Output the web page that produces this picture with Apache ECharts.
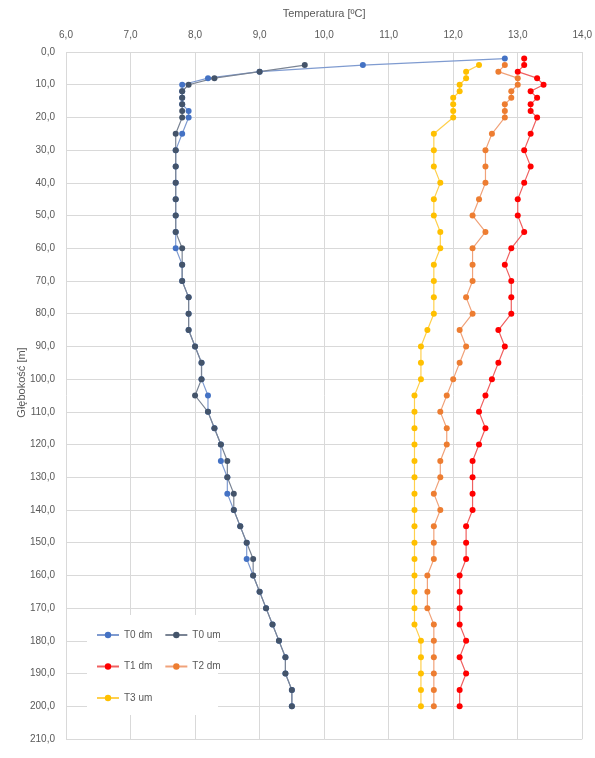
<!DOCTYPE html>
<html>
<head>
<meta charset="utf-8">
<script src="https://cdn.jsdelivr.net/npm/echarts@6/dist/echarts.min.js"></script>
<style>html,body{margin:0;padding:0;background:#fff;}#c{width:595px;height:758px;}</style>
</head>
<body>
<div id="c"></div>
<script>
// Depths [m]
const depths = [2,4,6,8,10,12,14,16,18,20,25,30,35,40,45,50,55,60,65,70,75,80,85,90,95,100,105,110,115,120,125,130,135,140,145,150,155,160,165,170,175,180,185,190,195,200];
const seriesNames = ['T0 dm','T0 um','T1 dm','T2 dm','T3 um'];
const T0dm = [12.8,10.6,9.0,8.2,7.8,7.8,7.8,7.8,7.9,7.9,7.8,7.7,7.7,7.7,7.7,7.7,7.7,7.7,7.8,7.8,7.9,7.9,7.9,8.0,8.1,8.1,8.2,8.2,8.3,8.4,8.4,8.5,8.5,8.6,8.7,8.8,8.8,8.9,9.0,9.1,9.2,9.3,9.4,9.4,9.5,9.5];
const T0um = [null,9.7,9.0,8.3,7.9,7.8,7.8,7.8,7.8,7.8,7.7,7.7,7.7,7.7,7.7,7.7,7.7,7.8,7.8,7.8,7.9,7.9,7.9,8.0,8.1,8.1,8.0,8.2,8.3,8.4,8.5,8.5,8.6,8.6,8.7,8.8,8.9,8.9,9.0,9.1,9.2,9.3,9.4,9.4,9.5,9.5];
const T1dm = [13.1,13.1,13.0,13.3,13.4,13.2,13.3,13.2,13.2,13.3,13.2,13.1,13.2,13.1,13.0,13.0,13.1,12.9,12.8,12.9,12.9,12.9,12.7,12.8,12.7,12.6,12.5,12.4,12.5,12.4,12.3,12.3,12.3,12.3,12.2,12.2,12.2,12.1,12.1,12.1,12.1,12.2,12.1,12.2,12.1,12.1];
const T2dm = [null,12.8,12.7,13.0,13.0,12.9,12.9,12.8,12.8,12.8,12.6,12.5,12.5,12.5,12.4,12.3,12.5,12.3,12.3,12.3,12.2,12.3,12.1,12.2,12.1,12.0,11.9,11.8,11.9,11.9,11.8,11.8,11.7,11.8,11.7,11.7,11.7,11.6,11.6,11.6,11.7,11.7,11.7,11.7,11.7,11.7];
const T3um = [null,12.4,12.2,12.2,12.1,12.1,12.0,12.0,12.0,12.0,11.7,11.7,11.7,11.8,11.7,11.7,11.8,11.8,11.7,11.7,11.7,11.7,11.6,11.5,11.5,11.5,11.4,11.4,11.4,11.4,11.4,11.4,11.4,11.4,11.4,11.4,11.4,11.4,11.4,11.4,11.4,11.5,11.5,11.5,11.5,11.5];
const legendRows = [['T0 dm','T0 um'],['T1 dm','T2 dm'],['T3 um']];
const colors = ['#4472C4','#44546A','#FF0000','#ED7D31','#FFC000'];
const lineColors = ['#7f9bd0','#7a8494','#f06060','#f0a27a','#ffd04d'];

const allValues = [T0dm, T0um, T1dm, T2dm, T3um];
const fmt = v => v.toFixed(1).replace('.', ',');
const font = 'Liberation Sans';

const chart = echarts.init(document.getElementById('c'), null, {renderer: 'canvas'});
const series = seriesNames.map((n, i) => ({
  name: n,
  type: 'line',
  data: depths.map((d, k) => allValues[i][k] == null ? null : [allValues[i][k], d]).filter(p => p !== null),
  symbol: 'circle',
  symbolSize: 6,
  itemStyle: {color: colors[i]},
  lineStyle: {color: lineColors[i], width: 1.2},
  emphasis: {disabled: true},
  animation: false
}));

const legends = legendRows.map((row, r) => ({
  data: row,
  orient: 'horizontal',
  left: 96, top: 630 + r * 31.5,
  padding: 0,
  itemWidth: 22, itemHeight: 8, itemGap: 12,
  textStyle: {color: '#595959', fontSize: 10, fontFamily: font}
}));

chart.setOption({
  backgroundColor: '#fff',
  animation: false,
  grid: {left: 66, right: 9, top: 52, bottom: 19, containLabel: false},
  graphic: [{
    type: 'rect', z: 1, silent: true,
    shape: {x: 87, y: 615, width: 131, height: 100},
    style: {fill: '#ffffff'}
  }],
  xAxis: {
    type: 'value', position: 'top', min: 6, max: 14, interval: 1,
    name: 'Temperatura [ºC]', nameLocation: 'middle', nameGap: 33,
    nameTextStyle: {color: '#595959', fontSize: 11, fontFamily: font},
    axisLine: {show: false}, axisTick: {show: false},
    axisLabel: {formatter: fmt, color: '#595959', fontSize: 10, fontFamily: font, margin: 12},
    splitLine: {show: true, lineStyle: {color: '#d9d9d9', width: 1}}
  },
  yAxis: {
    type: 'value', inverse: true, min: 0, max: 210, interval: 10,
    name: 'Głębokość [m]', nameLocation: 'middle', nameGap: 39, nameRotate: 90,
    nameMoveOverlap: false,
    nameTextStyle: {color: '#595959', fontSize: 11, fontFamily: font, padding: [0, 0, 0, 26]},
    axisLine: {show: false}, axisTick: {show: false},
    axisLabel: {formatter: fmt, color: '#595959', fontSize: 10, fontFamily: font, margin: 11},
    splitLine: {show: true, lineStyle: {color: '#d9d9d9', width: 1}}
  },
  legend: legends,
  series: series
});
</script>
</body>
</html>
